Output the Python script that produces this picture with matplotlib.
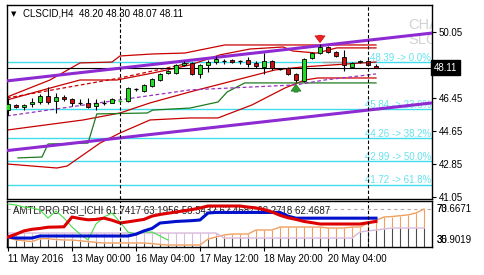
import matplotlib
matplotlib.use('Agg')
import matplotlib.pyplot as plt
from matplotlib.transforms import blended_transform_factory

plt.rcParams['font.family'] = ['Liberation Sans', 'DejaVu Sans']

# H4 candles, bar index 0 = 11 May 2016
opens  = [45.79, 46.07, 45.96, 46.12, 46.23, 46.56, 46.29, 46.50, 46.39, 46.18,
          46.18, 46.01, 46.18, 46.18, 46.31, 46.29, 46.94, 46.83, 47.10, 47.43,
          47.81, 47.81, 48.25, 48.36, 47.76, 48.25, 48.41, 48.47, 48.52, 48.44,
          48.52, 48.36, 48.14, 48.47, 48.03, 48.09, 47.76, 47.38, 48.63, 48.90,
          49.23, 48.95, 48.68, 48.14, 48.41, 48.47, 48.20]
highs  = [46.45, 46.12, 46.10, 46.45, 46.65, 47.05, 46.72, 46.60, 46.45, 46.40,
          46.45, 46.40, 46.34, 46.45, 46.40, 47.05, 46.98, 47.20, 47.52, 47.80,
          47.95, 48.28, 48.45, 48.42, 48.30, 48.50, 48.75, 48.58, 48.55, 48.50,
          48.70, 48.47, 48.90, 48.52, 48.10, 48.14, 47.80, 48.62, 48.95, 49.40,
          49.30, 49.00, 49.05, 48.40, 48.50, 48.52, 48.30]
lows   = [45.52, 45.90, 45.79, 45.96, 46.10, 46.12, 45.63, 46.30, 46.00, 46.05,
          45.90, 45.80, 46.05, 46.15, 46.22, 46.25, 46.85, 46.80, 47.05, 47.40,
          47.78, 47.76, 48.20, 47.72, 47.54, 47.87, 48.30, 48.30, 48.36, 48.30,
          48.15, 48.10, 47.76, 47.98, 47.95, 47.70, 47.30, 47.30, 48.58, 48.85,
          48.90, 48.70, 47.92, 48.10, 48.38, 48.20, 48.07]
closes = [46.12, 45.96, 46.07, 46.23, 46.56, 46.23, 46.50, 46.39, 46.18, 46.18,
          45.96, 46.18, 46.18, 46.39, 46.32, 47.00, 46.94, 47.16, 47.49, 47.76,
          47.92, 48.25, 48.36, 47.76, 48.25, 48.41, 48.58, 48.47, 48.41, 48.44,
          48.30, 48.20, 48.47, 48.09, 48.03, 47.76, 47.43, 48.58, 48.90, 49.23,
          48.95, 48.74, 48.25, 48.36, 48.47, 48.25, 48.11]

x_ticks = [0, 8, 16, 24, 32, 40]
x_labels = ['11 May 2016', '13 May 00:00', '16 May 04:00', '17 May 12:00',
            '18 May 20:00', '20 May 04:00']
y_ticks = [50.05, 46.45, 44.65, 42.85, 41.05]

fib_levels = [48.39, 45.84, 44.26, 42.99, 41.72]
fib_pcts = ['0.0%', '23.6%', '38.2%', '50.0%', '61.8%']

# trend channel (bar index, price)
chan_x = [-0.125, 53]
chan_top = [47.38, 49.99]
chan_bot = [43.58, 46.18]

# envelope / band lines
band1_x = [-0.125, 5.25, 9, 13, 14, 18.1, 22.1, 27.1, 46]
band1_y = [46.50, 47.43, 48.36, 48.41, 48.74, 48.85, 48.90, 49.34, 49.34]
band2_x = [-0.125, 5.25, 9, 13.6, 18.1, 22.75, 26.5, 30.25, 34.4, 35.6, 38.6, 41.1, 46]
band2_y = [46.34, 46.99, 47.43, 47.43, 47.81, 48.25, 48.80, 49.12, 49.23, 49.01, 48.90, 49.18, 49.18]
band3_x = [-0.125, 9.4, 14, 17.75, 22.75, 33.4, 36.75, 46]
band3_y = [44.70, 45.25, 45.63, 46.18, 46.78, 47.98, 48.14, 48.41]
band4_x = [-0.125, 6.1, 7.4, 11.5, 14, 17.75, 22.75, 26.25, 30.5, 34.6, 37.1, 38.75, 46]
band4_y = [42.85, 42.63, 42.74, 43.99, 44.54, 45.25, 45.36, 45.36, 46.07, 46.99, 47.43, 47.54, 47.54]
band5_x = [-0.125, 14, 22.75]
band5_y = [46.45, 47.54, 48.36]
kijun_x = [1.25, 4.25, 5, 10, 11.1, 17.4, 18.1, 22.75, 26.25, 27.4, 29.6, 46]
kijun_y = [43.18, 43.23, 43.94, 43.99, 45.58, 45.63, 45.79, 45.90, 46.23, 46.78, 47.27, 47.27]
pdash_x = [-0.125, 22.75, 35.9, 39.6, 46]
pdash_y = [45.47, 46.89, 47.16, 47.43, 47.76]

# sub window: AMTLPRO RSI_ICHI
rsi = [39.6, 43, 47, 49, 50, 51.5, 51.7, 52, 63.9, 62, 60.5, 61, 62.5, 60, 56.6,
       58, 59.5, 61, 65, 67, 68.5, 70, 71.5, 73, 74.9, 77.3, 77.3, 77.3, 77.3,
       77.3, 76, 75, 73, 70, 66, 63, 61, 58.5, 57, 55.4, 55.4, 55.4, 55.4, 55.4,
       55.4, 57, 58.5]
sig = [39.6, 38.3, 38.3, 38.3, 40.8, 40.8, 40.8, 40.8, 40.8, 40.8, 40.8, 40.8,
       40.8, 40.8, 40.8, 40.8, 43, 47, 50, 56.6, 57.5, 58.5, 59, 59.5, 60.3, 68.8,
       69.5, 69.5, 69.5, 69.5, 69.5, 69.5, 69.5, 69.5, 69.5, 65, 62.5, 62.5, 62.5,
       62.5, 62.5, 62.5, 62.5, 62.5, 62.5, 62.5, 62.5]
lag = [79.8, 78.5, 76, 75, 72.5, 62.7, 71.2, 62.7, 51.7, 43.2, 35.9, 55.4, 63.9,
       68.8, 57.8, 45.6, 43.2, 45.6, 45.6, 40.8, 35.9]
span_a = [38.3, 36, 35, 34, 37.5, 37.5, 36.5, 36, 35.9, 35, 34, 33, 32.3, 32.3,
          32.3, 32.3, 32.3, 32.3, 31.5, 30.5, 29.8, 29.8, 29.8, 29.8, 29.8, 37,
          39.6, 42, 43.2, 43.2, 43.2, 48.1, 48.1, 48.1, 51.7, 51.7, 51.7, 51.7,
          51.7, 51.7, 50.5, 50.5, 50.5, 51.7, 51.7, 56.6, 60, 63.9, 64.5, 65.5,
          66.5, 68.8, 73.67]
span_b = [44.4] * 27 + [38.3] * 17 + [45.65, 47, 48.1, 49.3, 50.5, 50.5, 50.5, 50.5, 50.5]

CYAN = '#3FDCEC'
RED = '#C80000'
PURPLE = '#8E2AD2'

W, H = 485, 275
def box(x0, y0, x1, y1):
    return [x0 / W, 1 - y1 / H, (x1 - x0) / W, (y1 - y0) / H]

fig = plt.figure(figsize=(4.85, 2.75), dpi=100)
ax = fig.add_axes(box(7, 5, 432, 199))
sub = fig.add_axes(box(7, 201, 432, 247), sharex=ax)

ax.set_xlim(-0.125, 53)
ax.set_ylim(40.94, 51.52)

# fibo levels
for lvl, pct in zip(fib_levels, fib_pcts):
    ax.axhline(lvl, color=CYAN, lw=1, zorder=1)
    ax.text(52.9, lvl + 0.08, f'{lvl:.2f} -> {pct}', color='#66E2EE', fontsize=7,
            ha='right', va='baseline', zorder=2)

ax.text(50.0, 50.2, 'CHART', color='#D2D2D2', fontsize=10.5, zorder=0, clip_on=True)
ax.text(50.0, 49.38, 'SLOPE', color='#D2D2D2', fontsize=10.5, zorder=0, clip_on=True)

ax.plot(chan_x, chan_top, color=PURPLE, lw=2.2, zorder=3)
ax.plot(chan_x, chan_bot, color=PURPLE, lw=2.2, zorder=3)
ax.plot(band1_x, band1_y, color=RED, lw=0.9, zorder=2)
ax.plot(band2_x, band2_y, color=RED, lw=0.9, zorder=2)
ax.plot(band3_x, band3_y, color=RED, lw=0.9, zorder=2)
ax.plot(band4_x, band4_y, color=RED, lw=0.9, zorder=2)
ax.plot(band5_x, band5_y, color=RED, lw=0.9, ls=(0, (3, 2)), zorder=2)
ax.plot(kijun_x, kijun_y, color='#1E7A1E', lw=0.9, zorder=2)
ax.plot(pdash_x, pdash_y, color='#9A30C0', lw=0.9, ls=(0, (3, 2)), zorder=2)
ax.plot([39.4, 41.75], [48.41, 48.41], color='#A0A0A0', lw=1, zorder=2)

ax.axhline(closes[-1], color='black', lw=0.8, zorder=2)

# candles
for i, (o, h, l, c) in enumerate(zip(opens, highs, lows, closes)):
    if abs(c - o) < 0.015:
        col = '#22DD22' if c > o else 'black'
        ax.vlines(i, l, h, color=col, lw=0.8, zorder=4)
        ax.hlines(o, i - 0.3, i + 0.3, color=col, lw=0.9, zorder=4)
        continue
    ax.vlines(i, l, h, color='black', lw=0.8, zorder=4)
    col = '#22DD22' if c > o else '#CC1010'
    ax.bar(i, abs(c - o), bottom=min(o, c), width=0.6, color=col,
           edgecolor='black', lw=0.6, zorder=5)

# signal arrows
arrow = 'simple,head_width=0.9,head_length=0.6,tail_width=0.35'
ax.annotate('', xy=(36, 47.34), xytext=(36, 46.62),
            arrowprops=dict(arrowstyle=arrow, mutation_scale=8,
                            fc='#2E9E2E', ec='#1E6E1E', lw=0.5), zorder=6)
ax.annotate('', xy=(39, 49.32), xytext=(39, 50.02),
            arrowprops=dict(arrowstyle=arrow, mutation_scale=8,
                            fc='#EE2222', ec='#CC0000', lw=0.5), zorder=6)

for xv in (14, 45):
    ax.axvline(xv, color='black', lw=0.8, ls=(0, (3, 2)), zorder=6)
    sub.axvline(xv, color='black', lw=0.8, ls=(0, (3, 2)), zorder=6)

ax.yaxis.tick_right()
ax.set_yticks(y_ticks)
ax.set_yticklabels([f'{v:.2f}' for v in y_ticks])
ax.tick_params(axis='y', length=3, labelsize=7, pad=2, width=0.8)
ax.tick_params(axis='x', bottom=False, labelbottom=False)

tr = blended_transform_factory(ax.transAxes, ax.transData)
ax.text(1.004, closes[-1], f'{closes[-1]:.2f}', transform=tr, color='white',
        fontsize=7, va='center', ha='left',
        bbox=dict(boxstyle='square,pad=0.25', fc='black', ec='black'))

for s in ax.spines.values():
    s.set_linewidth(1)

# sub window
sub.set_ylim(27.4, 83.4)
bottom = 27.4
for i, (a, b) in enumerate(zip(span_a, span_b)):
    lo, hi = min(a, b), max(a, b)
    sub.vlines(i, bottom, lo, color='#4A4A4A', lw=0.8, zorder=1)
    sub.vlines(i, lo, hi, color='#F0A060' if a > b else '#D8B8DC', lw=0.8, zorder=1)
sub.plot(range(len(span_a)), span_a, color='#F0A060', lw=1, zorder=2)
sub.plot(range(len(span_b)), span_b, color='#D8B8DC', lw=1, zorder=2)
sub.axhline(73.3, color='#B8A8A8', lw=0.8, ls=(0, (3, 3)), zorder=1)
sub.text(0.6, 72.2, 'AMTLPRO RSI_ICHI 61.7417 63.1956 58.5432 62.4687 62.2718 62.4687',
         fontsize=7, color='#202020', va='center', zorder=2)
sub.plot(range(len(lag)), lag, color='#44DD44', lw=0.8, zorder=3)
sub.plot(range(len(sig)), sig, color='#0010CC', lw=2.2, zorder=4)
sub.plot(range(len(rsi)), rsi, color='#DD0000', lw=2.2, zorder=5)

trs = blended_transform_factory(sub.transAxes, sub.transData)
for txt, yv in (('70', 73.3), ('73.6671', 73.3), ('30', 35.9), ('35.9019', 35.9)):
    sub.text(1.01, yv, txt, transform=trs, fontsize=7, va='center', ha='left')

sub.set_yticks([])
sub.set_xticks(x_ticks)
sub.set_xticklabels(x_labels)
for lbl in sub.get_xticklabels():
    lbl.set_ha('left')
sub.tick_params(axis='x', length=3, labelsize=7, pad=2, width=0.8)
for s in sub.spines.values():
    s.set_linewidth(1)

# header
fig.text(11 / W, 1 - 14 / H, '\u25bc', fontsize=5, va='center', family='DejaVu Sans')
fig.text(23 / W, 1 - 14 / H, 'CLSCID,H4  48.20 48.30 48.07 48.11', fontsize=7, va='center')

fig.savefig('out.png', dpi=100)
